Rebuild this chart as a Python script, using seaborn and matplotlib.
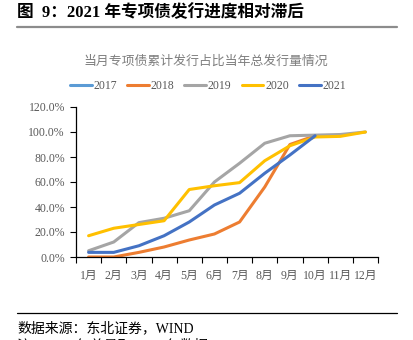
import numpy as np
import pandas as pd
import matplotlib
matplotlib.use("Agg")
import matplotlib.pyplot as plt
from matplotlib.lines import Line2D
from matplotlib.ticker import FixedLocator, PercentFormatter
import seaborn as sns

months = ["1月", "2月", "3月", "4月", "5月", "6月", "7月", "8月", "9月", "10月", "11月", "12月"]
years = ["2017", "2018", "2019", "2020", "2021"]
colors = ["#5B9BD5", "#ED7D31", "#A5A5A5", "#FFC000", "#4472C4"]

nan = np.nan
s2017 = [nan] * 12
s2018 = [0.0, 0.0, 3.7, 8.0, 13.6, 18.4, 28.0, 56.0, 90.0, 97.0, nan, nan]
s2019 = [5.0, 12.0, 27.5, 31.0, 37.0, 60.0, 75.0, 91.0, 97.0, 97.5, 98.0, 100.0]
s2020 = [17.0, 23.0, 26.0, 29.0, 54.0, 57.0, 59.5, 77.0, 89.0, 96.0, 96.5, 100.0]
s2021 = [3.7, 3.7, 9.0, 17.0, 28.0, 41.6, 51.0, 67.0, 81.6, 97.0, nan, nan]
series = [s2017, s2018, s2019, s2020, s2021]

rows = []
for yr, vals in zip(years, series):
    for i, v in enumerate(vals):
        rows.append({"year": yr, "idx": i, "month": months[i], "value": v / 100.0})
df = pd.DataFrame(rows)

sns.set_style("white")
plt.rcParams["font.family"] = ["Liberation Serif", "Noto Sans CJK SC", "DejaVu Sans"]

W, H = 413, 340
fig = plt.figure(figsize=(W / 100, H / 100), dpi=100)
ax = fig.add_axes([76 / W, 1 - 257 / H, (378 - 76) / W, (257 - 107) / H])

palette = dict(zip(years, colors))
plot_df = df.dropna(subset=["value"])
sns.lineplot(data=plot_df, x="idx", y="value", hue="year", palette=palette,
             hue_order=[y for y in years if y in plot_df["year"].unique()],
             estimator=None, sort=False, linewidth=2.2, ax=ax, legend=False)

ax.set_xlim(-0.5, 11.5)
ax.set_ylim(0, 1.2)
ax.set_xlabel("")
ax.set_ylabel("")
ax.yaxis.set_major_locator(FixedLocator(np.arange(0, 1.21, 0.2)))
ax.yaxis.set_major_formatter(PercentFormatter(1.0, decimals=1))
ax.set_xticks(range(12))
ax.set_xticklabels(months)
ax.xaxis.set_minor_locator(FixedLocator(np.arange(-0.5, 12, 1)))
ax.tick_params(axis="x", which="major", length=0, pad=9, labelsize=8.5, colors="#595959")
ax.tick_params(axis="x", which="minor", length=4, width=0.8, color="black", direction="out", bottom=True)
ax.tick_params(axis="y", which="major", length=4, width=0.8, color="black", direction="out", left=True,
               labelsize=8.5, labelcolor="#595959", pad=4)
for side in ["top", "right"]:
    ax.spines[side].set_visible(False)
for side in ["left", "bottom"]:
    ax.spines[side].set_color("black")
    ax.spines[side].set_linewidth(0.9)
ax.grid(False)

# legend row
handles = [Line2D([0], [0], color=c, lw=2.2) for c in colors]
fig.legend(handles, years, loc="center", bbox_to_anchor=(208 / W, 1 - 86 / H), ncol=5,
           frameon=False, fontsize=8.5, handlelength=1.85, handletextpad=0.15,
           columnspacing=0.85, labelcolor="#595959")

# chart title
fig.text(206 / W, 1 - 62 / H, "当月专项债累计发行占比当年总发行量情况", ha="center", va="center",
         fontsize=9.3, color="#7F7F7F")

# figure header
fig.text(17 / W, 1 - 13 / H, "图  9：2021 年专项债发行进度相对滞后", ha="left", va="center",
         fontsize=12, fontweight="bold", color="black")
fig.add_artist(Line2D([17 / W, 397 / W], [1 - 26.5 / H, 1 - 26.5 / H], color="#8C8C8C", lw=1.6))

# footer
fig.add_artist(Line2D([17 / W, 397 / W], [1 - 313 / H, 1 - 313 / H], color="black", lw=0.9))
fig.text(17 / W, 1 - 328 / H, "数据来源：东北证券，WIND", ha="left", va="center",
         fontsize=10, color="black")
fig.text(17 / W, 1 - 346 / H, "注：2021 年总量取 2020 年数据", ha="left", va="center",
         fontsize=10, color="black")

fig.savefig("out.png", dpi=100, facecolor="white")
